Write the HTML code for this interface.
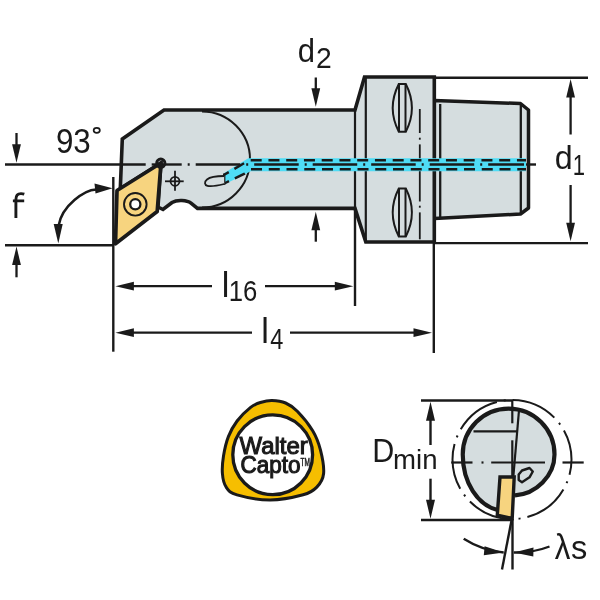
<!DOCTYPE html>
<html><head><meta charset="utf-8">
<style>
html,body{margin:0;padding:0;background:#fff;width:600px;height:600px;overflow:hidden}
svg{display:block;will-change:transform}
text{font-family:"Liberation Sans",sans-serif;fill:#1a1a1a}
</style></head><body>
<svg width="600" height="600" viewBox="0 0 600 600">
<g stroke="#1a1a1a" fill="none" stroke-width="2.4">
<line x1="5" y1="245.3" x2="113" y2="245.3"/>
<line x1="113.3" y1="177" x2="113.3" y2="351.7"/>
<line x1="355" y1="208" x2="355" y2="306"/>
<line x1="433.8" y1="242" x2="433.8" y2="353"/>
<line x1="435" y1="77.7" x2="588" y2="77.7"/>
<line x1="435" y1="243.1" x2="588" y2="243.1"/>
</g>

<!-- cone shank -->
<path d="M434.3,100.5 L520.5,103.5 L528.5,110 L528.5,208 L520.5,214 L434.3,218.5 Z" fill="#d5dddf" stroke="#1a1a1a" stroke-width="3.5" stroke-linejoin="round"/>
<line x1="440.2" y1="104" x2="440.2" y2="217" stroke="#1a1a1a" stroke-width="2.3"/>
<line x1="520.8" y1="104" x2="520.8" y2="213" stroke="#1a1a1a" stroke-width="2.3"/>

<!-- body -->
<path d="M122.3,139 L164,110 L355,110 L364.5,77 L434.3,77 L434.3,242 L365.8,242 L355,208.4 L197.5,208.4 L191,203.2 C187,200 177,199.5 172,202.5 L163,209.5 L158,207 L161,163 L120.3,188.7 Z" fill="#d5dddf" stroke="#1a1a1a" stroke-width="3.6" stroke-linejoin="miter"/>
<line x1="365.8" y1="78" x2="365.8" y2="241" stroke="#1a1a1a" stroke-width="2.2"/>
<line x1="355" y1="111" x2="355" y2="208" stroke="#1a1a1a" stroke-width="2.2"/>
<!-- big circle -->
<path d="M202,111.5 A48,48 0 0 1 202,207.5" fill="none" stroke="#1a1a1a" stroke-width="2"/>

<!-- ovals on flange -->
<g fill="none" stroke="#1a1a1a" stroke-width="2">
<path d="M398.8,84 L405.8,84 Q418,108 405.8,131.7 L398.8,131.7 Q386.6,108 398.8,84 Z"/>
<line x1="399" y1="84" x2="399" y2="131.7"/>
<line x1="405.5" y1="84" x2="405.5" y2="131.7"/>
<path d="M398.8,188.5 L405.8,188.5 Q418,212.5 405.8,236.5 L398.8,236.5 Q386.6,212.5 398.8,188.5 Z"/>
<line x1="399" y1="188.5" x2="399" y2="236.5"/>
<line x1="405.5" y1="188.5" x2="405.5" y2="236.5"/>
</g>
<!-- flange dash-dot -->
<g stroke="#1a1a1a" stroke-width="1.8">
<line x1="419.8" y1="109" x2="419.8" y2="133"/>
<line x1="419.8" y1="137.7" x2="419.8" y2="139.7"/>
<line x1="419.8" y1="144.4" x2="419.8" y2="201.5"/>
<line x1="419.8" y1="205.7" x2="419.8" y2="207.7"/>
<line x1="419.8" y1="212.4" x2="419.8" y2="239.3"/>
</g>

<!-- coolant channel -->
<path d="M224.2,173 L248.3,158.2 L526,158.2 L526,171.3 L250.7,171.3 L224.2,184.6 Z" fill="#4fdcf5"/>
<g fill="none" stroke="#1a1a1a" stroke-width="2.4">
<path d="M224.2,174.8 L244.5,163 L248.5,160.3 L526,160.3" stroke-dasharray="5.3 6.5 11.2 7.5 11 6.75 11 6.75 11 6.75 11 6.75 11 6.75 11 6.75 11 6.75 11 6.75 11 6.75 11 6.75 11 6.75 11 6.75 11 6.75 11 6.75 11 6.75 11 6.75 11 6.75 11 6.75"/>
<path d="M224.2,183.5 L244.6,173.7 L250.5,169.3 L526,169.3" stroke-dasharray="5.3 6.5 11.2 7.5 11 6.75 11 6.75 11 6.75 11 6.75 11 6.75 11 6.75 11 6.75 11 6.75 11 6.75 11 6.75 11 6.75 11 6.75 11 6.75 11 6.75 11 6.75 11 6.75 11 6.75 11 6.75"/>
</g>
<line x1="224.2" y1="173.5" x2="224.2" y2="184.8" stroke="#1a1a1a" stroke-width="2.4"/>
<!-- drop -->
<path d="M224.2,176 C217,176 210,177 207,179.5 C204,182 204.5,185 207.5,185.8 C211,186.8 218,185.5 224.2,184" fill="#d5dddf" stroke="#1a1a1a" stroke-width="1.8"/>

<!-- centerline -->
<g stroke="#1a1a1a" stroke-width="2.4" fill="none">
<line x1="5" y1="164.5" x2="145.7" y2="164.5"/>
<line x1="151.7" y1="164.5" x2="181.7" y2="164.5"/>
<line x1="187.7" y1="164.5" x2="524" y2="164.5" stroke-dasharray="2 6 44.5 6"/>
<line x1="526" y1="164.5" x2="536" y2="164.5"/>
</g>

<!-- crosshair -->
<g stroke="#1a1a1a" stroke-width="1.8" fill="none">
<circle cx="175" cy="181.3" r="4.5"/>
<line x1="165" y1="181.3" x2="183.7" y2="181.3"/>
<line x1="175" y1="170.7" x2="175" y2="190.7"/>
</g>

<!-- insert -->
<path d="M161,163 L117,190.5 L115.5,243.8 L157.2,211.5 Z" fill="#f7d47f" stroke="#1a1a1a" stroke-width="3.7" stroke-linejoin="round"/>
<circle cx="135.3" cy="204.3" r="11.3" fill="none" stroke="#1a1a1a" stroke-width="1.9"/>
<circle cx="135.3" cy="204.3" r="5.1" fill="#fff" stroke="#1a1a1a" stroke-width="2.3"/>
<circle cx="160.8" cy="163.2" r="4.1" fill="none" stroke="#1a1a1a" stroke-width="3"/>

<!-- arrows -->
<g stroke="#1a1a1a" stroke-width="2.3" fill="none">
<line x1="16.5" y1="133.0" x2="16.5" y2="146.3"/><path d="M16.5,162.8 L12.1,144.3 L20.9,144.3 Z" fill="#1a1a1a" stroke="none"/>
<line x1="16.5" y1="277.3" x2="16.5" y2="263.1"/><path d="M16.5,246.6 L20.9,265.1 L12.1,265.1 Z" fill="#1a1a1a" stroke="none"/>
<line x1="315.8" y1="77.5" x2="315.8" y2="90.3"/><path d="M315.8,106.8 L311.4,88.3 L320.2,88.3 Z" fill="#1a1a1a" stroke="none"/>
<line x1="315.8" y1="241.7" x2="315.8" y2="228.2"/><path d="M315.8,211.7 L320.2,230.2 L311.4,230.2 Z" fill="#1a1a1a" stroke="none"/>
<line x1="570.6" y1="134.5" x2="570.6" y2="95.5"/><path d="M570.6,79.0 L575.0,97.5 L566.2,97.5 Z" fill="#1a1a1a" stroke="none"/>
<line x1="570.6" y1="185.0" x2="570.6" y2="224.8"/><path d="M570.6,241.3 L566.2,222.8 L575.0,222.8 Z" fill="#1a1a1a" stroke="none"/>
<line x1="212.0" y1="286.2" x2="131.9" y2="286.2"/><path d="M115.4,286.2 L133.9,281.8 L133.9,290.6 Z" fill="#1a1a1a" stroke="none"/>
<line x1="265.0" y1="286.2" x2="336.8" y2="286.2"/><path d="M353.3,286.2 L334.8,290.6 L334.8,281.8 Z" fill="#1a1a1a" stroke="none"/>
<line x1="252.0" y1="332.7" x2="131.9" y2="332.7"/><path d="M115.4,332.7 L133.9,328.3 L133.9,337.1 Z" fill="#1a1a1a" stroke="none"/>
<line x1="290.0" y1="332.7" x2="415.5" y2="332.7"/><path d="M432.0,332.7 L413.5,337.1 L413.5,328.3 Z" fill="#1a1a1a" stroke="none"/>
</g>
<!-- 93 arc -->
<path d="M96,189.5 C85,190 62,205 58.5,226" fill="none" stroke="#1a1a1a" stroke-width="2.5"/>
<path d="M112.6,188.3 L94.5,183.5 L95.5,193.5 Z" fill="#1a1a1a"/>
<path d="M58.3,243.5 L53.7,224 L62.7,224 Z" fill="#1a1a1a"/>
<!-- labels -->
<text transform="translate(55.9,152.65) scale(0.891,1)" font-size="35.2">93</text>
<ellipse cx="96.75" cy="130.3" rx="3.1" ry="2.5" fill="none" stroke="#1a1a1a" stroke-width="1.7"/>
<path d="M15.9,218 L15.9,199.5 C15.9,195 18,193.6 21,193.6 C22.4,193.6 23.4,193.8 24.3,194.1 M12.9,200.9 L24.2,200.9" fill="none" stroke="#1a1a1a" stroke-width="2.9"/>
<text transform="translate(297.76,62.16) scale(0.92,1)" font-size="33.8">d</text>
<text transform="translate(316.1,68) scale(0.965,1)" font-size="29.3">2</text>
<text transform="translate(554.7,168.66) scale(0.953,1)" font-size="33.8">d</text>
<text transform="translate(572.73,174.5) scale(0.744,1)" font-size="29.7">1</text>
<text transform="translate(221.8,296.6)" font-size="34.2">l</text>
<text transform="translate(228.74,301.4) scale(0.857,1)" font-size="30">16</text>
<text transform="translate(261.3,342.6)" font-size="34.2">l</text>
<text transform="translate(270.2,348.6) scale(0.787,1)" font-size="29.9">4</text>

<!-- Walter Capto logo -->
<path d="M272.0,400.5 C276.2,400.6 281.4,401.2 285.6,403.0 C289.8,404.8 292.8,406.7 297.3,411.3 C301.8,415.9 308.8,424.3 312.7,430.8 C316.6,437.3 318.7,443.1 320.5,450.2 C322.3,457.3 324.2,467.4 323.6,473.5 C323.0,479.6 320.2,483.6 316.8,487.1 C313.4,490.7 310.9,492.7 303.1,494.8 C295.3,496.9 281.1,500.0 270.1,500.0 C259.1,500.0 244.3,497.0 237.0,494.9 C229.7,492.8 228.6,490.8 226.2,487.2 C223.8,483.6 222.8,478.7 222.4,473.5 C222.0,468.3 222.5,462.1 223.5,456.0 C224.5,449.9 226.1,442.4 228.4,436.6 C230.7,430.8 233.4,425.9 237.1,421.0 C240.8,416.1 246.7,410.5 250.6,407.4 C254.5,404.3 256.8,403.6 260.4,402.5 C264.0,401.4 267.8,400.4 272.0,400.5 Z" fill="#f6be00" stroke="#1a1a1a" stroke-width="3"/>
<circle cx="272.7" cy="454.8" r="39.9" fill="#fff" stroke="#1a1a1a" stroke-width="3.3"/>
<g stroke="#1a1a1a" stroke-width="1.1">
<text transform="translate(239.5,454.2)" font-size="23.9">Walter</text>
<text transform="translate(240.4,472.7) scale(0.953,1)" font-size="23.6">Capto</text>
<text transform="translate(300.5,466) scale(0.62,1)" font-size="10.5" stroke-width="0.5">TM</text>
</g>

<!-- Dmin view -->
<g stroke="#1a1a1a" stroke-width="2.4" fill="none">
<line x1="421" y1="400.5" x2="513" y2="400.5"/>
<line x1="421" y1="520" x2="511" y2="520"/>
<line x1="430.5" y1="445" x2="430.5" y2="419"/>
<line x1="430.5" y1="478.7" x2="430.5" y2="501"/>
</g>
<path d="M430.5,401.7 L426,420.7 L435,420.7 Z M430.5,518.7 L426,499.7 L435,499.7 Z" fill="#1a1a1a"/>
<text transform="translate(372.16,462) scale(0.9,1)" font-size="33.9">D</text>
<text transform="translate(393.07,468.6)" font-size="27.6">min</text>

<circle cx="512" cy="459.5" r="59.5" fill="none" stroke="#1a1a1a" stroke-width="2" stroke-dasharray="46.31 7 2 7" stroke-dashoffset="30.93"/>
<path d="M515,495.3 C536,494 554.5,476 554.5,454.5 A45.85,45.85 0 0 0 462.75,454.5 C462.75,483 478,505 497.5,510" fill="#d5dddf" stroke="#1a1a1a" stroke-width="4.2"/>
<g stroke="#1a1a1a" stroke-width="2.2" fill="none">
<line x1="473.5" y1="431.3" x2="517" y2="431.3"/>
<line x1="519.1" y1="409" x2="513.4" y2="476"/>
<line x1="512.3" y1="400.7" x2="512.3" y2="423.3"/>
<line x1="512.3" y1="440.3" x2="512.3" y2="476"/>
<line x1="451.2" y1="462.5" x2="472.5" y2="462.5"/>
<line x1="481.5" y1="462.5" x2="483.5" y2="462.5"/>
<line x1="491.2" y1="462.5" x2="545" y2="462.5"/>
<line x1="562.5" y1="462.5" x2="583.7" y2="462.5"/>
</g>
<path d="M500,477 L514.2,477 L512.2,518.5 L497.3,515.2 Z" fill="#f7d47f" stroke="#1a1a1a" stroke-width="3.4"/>
<path d="M518.7,474.5 L522,470.5 L529.5,468 L532.8,471.5 L529.5,477.3 L522,482.2 L518.7,480 Z" fill="none" stroke="#1a1a1a" stroke-width="2.4" stroke-linejoin="round"/>

<g stroke="#1a1a1a" stroke-width="2.4" fill="none">
<line x1="512.5" y1="519" x2="512.5" y2="569.5"/>
<line x1="511.8" y1="519" x2="502" y2="569.5"/>
<path d="M463.7,538.7 A91,91 0 0 0 503.7,552.5"/>
<path d="M513.8,552.5 A91,91 0 0 0 549.5,546.5"/>
</g>
<path d="M503.7,552.5 L484.6,546.2 L483.8,555.2 Z" fill="#1a1a1a"/>
<path d="M513.8,552.5 L533.5,547.6 L533.3,556.6 Z" fill="#1a1a1a"/>
<text transform="translate(554.7,559.35) scale(0.9,1)" font-size="34.7">λ</text>
<text transform="translate(571,559.16) scale(0.969,1)" font-size="33.6">s</text>
</svg>
</body></html>
